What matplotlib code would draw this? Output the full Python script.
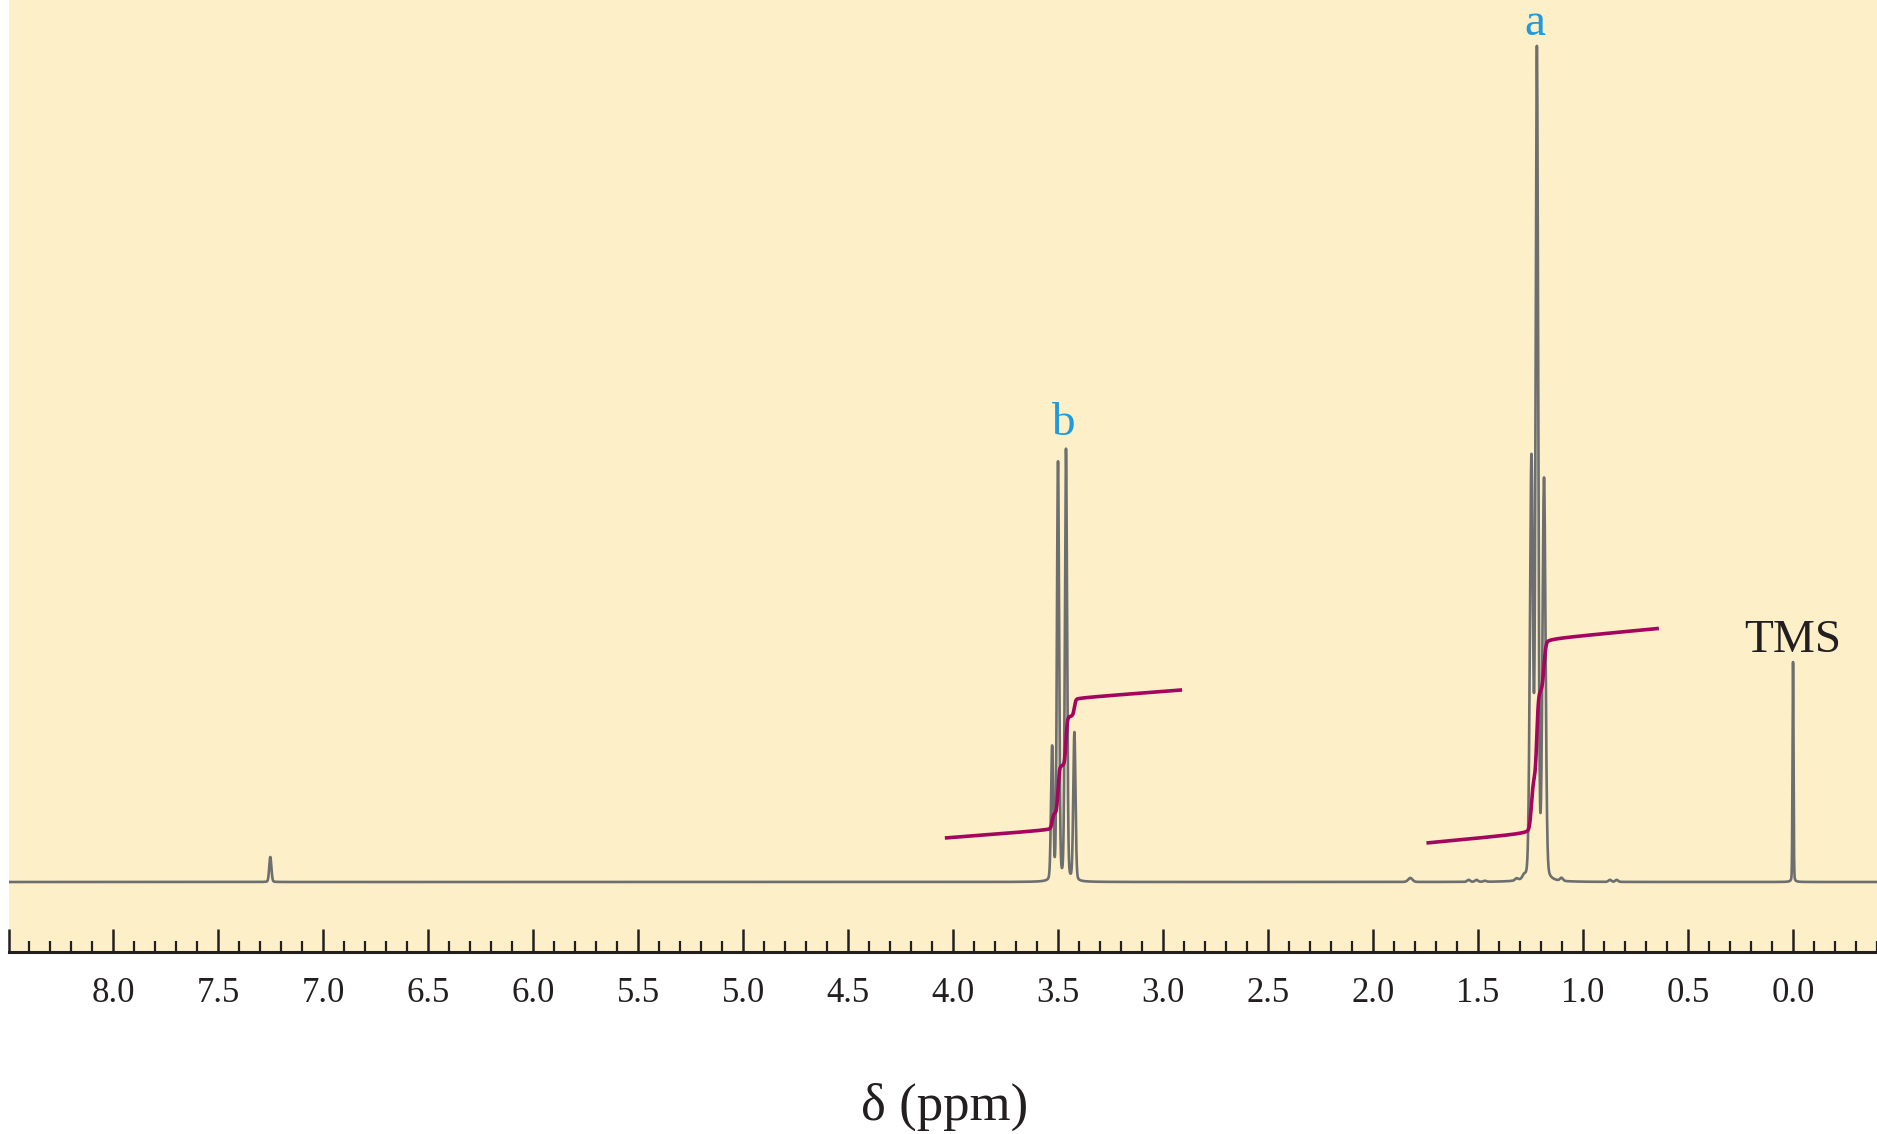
import numpy as np
import matplotlib
matplotlib.use("Agg")
import matplotlib.pyplot as plt
from matplotlib.ticker import MultipleLocator

# peak lists: position (ppm), height (arbitrary units, baseline = 0), half width (ppm)
quartet_ppm = [3.529, 3.501, 3.463, 3.423]
quartet_height = [133, 418, 431, 148]
quartet_width = [0.0062, 0.0062, 0.0062, 0.0062]

triplet_ppm = [1.246, 1.220, 1.186]
triplet_height = [418, 826, 398]
triplet_width = [0.0085, 0.0072, 0.0085]

tms_ppm = [0.0]
tms_height = [220]
tms_width = [0.0028]

minor_ppm = [7.253, 1.823, 1.545, 1.508, 1.468, 1.317, 1.282, 1.103, 0.872, 0.840]
minor_height = [25, 4, 2, 2, 1, 2, 3, 3, 2, 2]
minor_width = [0.006, 0.012, 0.008, 0.008, 0.008, 0.008, 0.008, 0.008, 0.008, 0.008]

# integral traces: start/end ppm, start level, slope per ppm, total rise
int_b = dict(start=4.040, end=2.910, level=44, slope=16, rise=130)
int_a = dict(start=1.746, end=0.639, level=39, slope=19.5, rise=193)

labels = [("b", 3.48, 447, "#1f9ade"), ("a", 1.23, 847, "#1f9ade"), ("TMS", 0.0, 230, "#231f20")]

SPEC = "#6d6e70"
INTEG = "#a3055f"
BG = "#fdf0c8"
TXT = "#231f20"


def lineshape(x, pos, h, w, eta=0.15):
    d = (x - pos) / w
    gauss = np.exp(-np.log(2) * d ** 2)
    lor = 1.0 / (1.0 + d ** 2)
    return h * ((1 - eta) * gauss + eta * lor)


def multiplet(x, ppms, heights, widths):
    y = np.zeros_like(x)
    for p, h, w in zip(ppms, heights, widths):
        y += lineshape(x, p, h, w)
    return y


x = np.linspace(8.5, -0.4, 60000)
groups = [
    (quartet_ppm, quartet_height, quartet_width),
    (triplet_ppm, triplet_height, triplet_width),
    (tms_ppm, tms_height, tms_width),
    (minor_ppm, minor_height, minor_width),
]
spectrum = np.zeros_like(x)
for g in groups:
    spectrum += multiplet(x, *g)


def integral_trace(spec, group):
    xi = np.linspace(spec["start"], spec["end"], 4000)
    yi = multiplet(xi, *group)
    c = np.cumsum(yi)
    c = c / c[-1]
    return xi, spec["level"] + spec["slope"] * (spec["start"] - xi) + spec["rise"] * c


fig = plt.figure(figsize=(18.77, 11.34), dpi=100)
ax = fig.add_axes([8.5 / 1877, 1 - 952 / 1134, 1 - 8.5 / 1877, 952 / 1134])
ax.set_facecolor(BG)

ax.plot(x, spectrum, color=SPEC, lw=1.9, zorder=2)

for spec, group in [(int_b, groups[0]), (int_a, groups[1])]:
    xi, yi = integral_trace(spec, group)
    ax.plot(xi, yi, color=INTEG, lw=2.6, solid_capstyle="butt", zorder=3)

for txt, px, py, col in labels:
    ax.text(px, py, txt, color=col, fontsize=34, family="Liberation Serif",
            ha="center", va="baseline")

ax.set_xlim(8.5, -0.4)
ax.set_ylim(-70, 882)

for s in ["left", "right", "top"]:
    ax.spines[s].set_visible(False)
ax.spines["bottom"].set_linewidth(2.2)
ax.spines["bottom"].set_color(TXT)

ax.xaxis.set_minor_locator(MultipleLocator(0.1))
ax.tick_params(axis="x", which="major", direction="in", length=16.5, width=1.8,
               color=TXT, pad=18, labelsize=25, labelcolor=TXT)
ax.tick_params(axis="x", which="minor", direction="in", length=8, width=1.6, color=TXT)
ax.set_yticks([])

tick_vals = np.arange(0.0, 8.51, 0.5)
ax.set_xticks(tick_vals)
ax.set_xticklabels(["" if t > 8.01 else f"{t:.1f}" for t in tick_vals],
                   family="Liberation Serif")

fig.text(945 / 1877, 1 - 1120 / 1134, "δ (ppm)", fontsize=38, family="Liberation Serif",
         color=TXT, ha="center", va="baseline")

fig.savefig("out.png", dpi=100, facecolor="white")
